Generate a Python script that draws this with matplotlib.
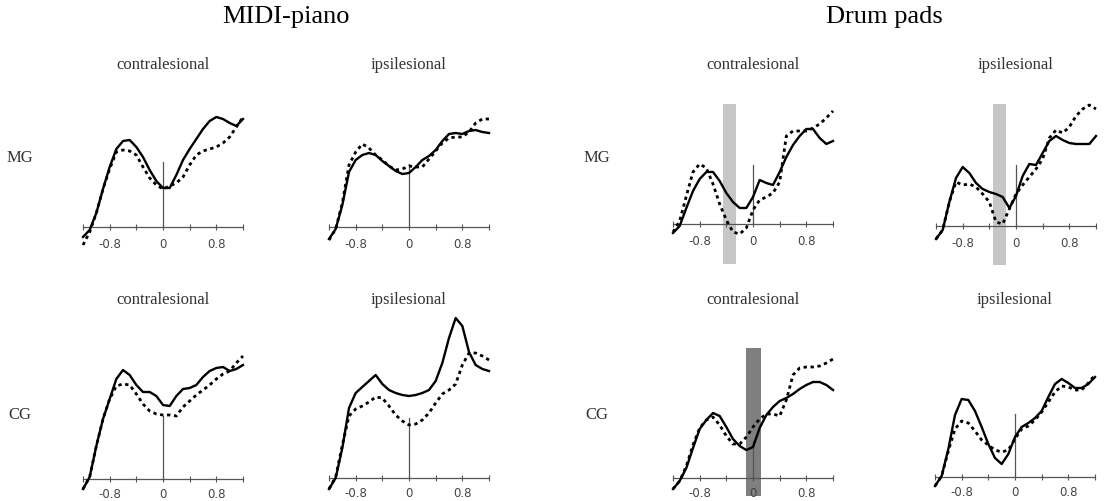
import matplotlib.pyplot as plt
import numpy as np

# time axis (s) sampled every 0.1
t = [-1.2, -1.1, -1.0, -0.9, -0.8, -0.7, -0.6, -0.5, -0.4, -0.3, -0.2, -0.1, 0.0,
     0.1, 0.2, 0.3, 0.4, 0.5, 0.6, 0.7, 0.8, 0.9, 1.0, 1.1, 1.2]

# curves (arbitrary units), solid / dotted
midi_mg_contra_solid = [-10, -3, 14, 38, 60, 78, 86, 87, 80, 70, 57, 46, 39, 39, 52, 67, 78, 88, 98, 106, 110, 108, 104, 101, 108]
midi_mg_contra_dot = [-18, -5, 14, 38, 58, 75, 77, 76, 72, 60, 49, 42, 38, 41, 44, 50, 62, 72, 76, 78, 80, 84, 90, 100, 110]
midi_mg_ipsi_solid = [-12, -2, 22, 55, 67, 72, 74, 72, 66, 61, 56, 53, 54, 60, 67, 71, 77, 86, 93, 94, 93, 96, 97, 95, 94]
midi_mg_ipsi_dot = [-13, -2, 24, 62, 75, 83, 79, 72, 67, 61, 57, 58, 61, 60, 60, 68, 76, 84, 89, 90, 90, 95, 104, 108, 108]
drum_mg_contra_solid = [-9, -2, 16, 33, 45, 52, 52, 43, 31, 22, 16, 16, 27, 44, 41, 39, 52, 67, 79, 88, 95, 95, 86, 80, 83]
drum_mg_contra_dot = [-8, 3, 28, 52, 60, 56, 40, 20, 4, -8, -10, -4, 14, 24, 27, 31, 42, 88, 93, 93, 93, 96, 100, 106, 113]
drum_mg_ipsi_solid = [-13, -4, 24, 48, 59, 53, 43, 37, 34, 32, 29, 18, 30, 50, 62, 61, 73, 85, 90, 86, 83, 82, 82, 82, 90]
drum_mg_ipsi_dot = [-13, -4, 24, 44, 41, 42, 39, 32, 24, 4, 2, 17, 32, 41, 49, 57, 67, 88, 96, 93, 99, 110, 117, 121, 117]
midi_cg_contra_solid = [-10, 2, 33, 60, 80, 100, 109, 104, 94, 87, 87, 83, 74, 73, 83, 90, 91, 94, 102, 108, 111, 112, 108, 110, 114]
midi_cg_contra_dot = [-10, 2, 33, 60, 80, 93, 95, 94, 85, 75, 68, 65, 64, 64, 63, 72, 78, 84, 89, 94, 100, 105, 108, 116, 123]
midi_cg_ipsi_solid = [-11, 0, 30, 70, 85, 91, 97, 103, 94, 88, 85, 83, 82, 83, 85, 88, 97, 115, 140, 160, 152, 126, 113, 109, 107]
midi_cg_ipsi_dot = [-11, 1, 33, 62, 69, 72, 76, 81, 80, 72, 63, 57, 53, 54, 58, 65, 75, 84, 88, 94, 113, 125, 125, 122, 118]
drum_cg_contra_solid = [-11, -3, 10, 30, 49, 58, 65, 62, 51, 39, 32, 28, 31, 50, 63, 71, 77, 80, 84, 89, 93, 96, 96, 93, 88]
drum_cg_contra_dot = [-11, -3, 12, 33, 50, 58, 61, 53, 42, 34, 34, 41, 51, 59, 64, 64, 62, 78, 103, 110, 111, 111, 112, 115, 119]
drum_cg_ipsi_solid = [-9, 1, 28, 62, 78, 77, 66, 50, 33, 19, 13, 23, 40, 50, 54, 59, 66, 80, 93, 98, 94, 89, 89, 93, 100]
drum_cg_ipsi_dot = [-9, 1, 26, 48, 56, 54, 46, 37, 32, 27, 25, 27, 38, 48, 51, 57, 65, 75, 85, 91, 90, 87, 87, 94, 102]

# height of the zero marker line in each panel
zero_marks = [65, 63, 59, 61, 63, 60, 37, 63]

# shaded windows: panel index -> (start, end, bottom, top, colour)
windows = {2: (-0.455, -0.25, -40, 120, "#c6c6c6"),
           3: (-0.345, -0.145, -39, 122, "#c6c6c6"),
           6: (-0.10, 0.125, -18, 130, "#7f7f7f")}

curves = [
    (midi_mg_contra_solid, midi_mg_contra_dot),
    (midi_mg_ipsi_solid, midi_mg_ipsi_dot),
    (drum_mg_contra_solid, drum_mg_contra_dot),
    (drum_mg_ipsi_solid, drum_mg_ipsi_dot),
    (midi_cg_contra_solid, midi_cg_contra_dot),
    (midi_cg_ipsi_solid, midi_cg_ipsi_dot),
    (drum_cg_contra_solid, drum_cg_contra_dot),
    (drum_cg_ipsi_solid, drum_cg_ipsi_dot),
]
subtitles = ["contralesional", "ipsilesional"] * 4

W, H = 1106, 502
fig = plt.figure(figsize=(W / 100, H / 100), dpi=100)

# pixel position of x=0 and of the baseline for each panel
centers = [163, 409, 753, 1016, 163, 409, 753, 1015]
baselines = [228, 228, 225, 227, 480, 479, 479, 478]
sub_y = [65, 65, 65, 65, 300, 300, 300, 300]
label_pad = [5.5, 5.5, 5.5, 5.5, 3.5, 3.5, 3.5, 3.5]

serif = ["Liberation Serif", "DejaVu Serif"]

for i, (solid, dot) in enumerate(curves):
    cx, by = centers[i], baselines[i]
    ax = fig.add_axes([(cx - 80) / W, 1 - (by + 45) / H, 160 / W, 215 / H])
    ax.set_xlim(-1.2, 1.2)
    ax.set_ylim(-45, 170)
    ax.patch.set_visible(False)

    if i in windows:
        x0, x1, y0, y1, c = windows[i]
        ax.fill_between([x0, x1], y0, y1, color=c, lw=0, zorder=1, clip_on=False)

    ax.plot(t, solid, color="black", lw=1.7, zorder=3, clip_on=False)
    ax.plot(t, dot, color="black", lw=2.0, ls=(0, (1.2, 1.3)), zorder=3, clip_on=False)
    ax.plot([0, 0], [0, zero_marks[i]], color="#555555", lw=0.9, zorder=2)

    for s in ["left", "right", "top"]:
        ax.spines[s].set_visible(False)
    ax.spines["bottom"].set_position(("data", 0))
    ax.spines["bottom"].set_color("#555555")
    ax.spines["bottom"].set_linewidth(0.9)
    ax.set_yticks([])
    ticks = [-1.2, -0.8, -0.4, 0, 0.4, 0.8, 1.2]
    ax.set_xticks(ticks)
    ax.set_xticklabels(["", "-0.8", "", "0", "", "0.8", ""])
    ax.tick_params(axis="x", direction="inout", length=4, width=0.8, color="#555555",
                   labelsize=8.5, labelcolor="#444444", pad=label_pad[i])

    fig.text(cx / W, 1 - sub_y[i] / H, subtitles[i], ha="center", va="center",
             fontsize=12, color="#333333", family=serif)

# group titles
fig.text(286 / W, 1 - 17 / H, "MIDI-piano", ha="center", va="center", fontsize=19, family=serif)
fig.text(884 / W, 1 - 17 / H, "Drum pads", ha="center", va="center", fontsize=19, family=serif)

# row labels
for lx in [20, 597]:
    fig.text(lx / W, 1 - 158 / H, "MG", ha="center", va="center", fontsize=12, color="#333333", family=serif)
    fig.text(lx / W, 1 - 415 / H, "CG", ha="center", va="center", fontsize=12, color="#333333", family=serif)

fig.savefig("out.png", dpi=100)
